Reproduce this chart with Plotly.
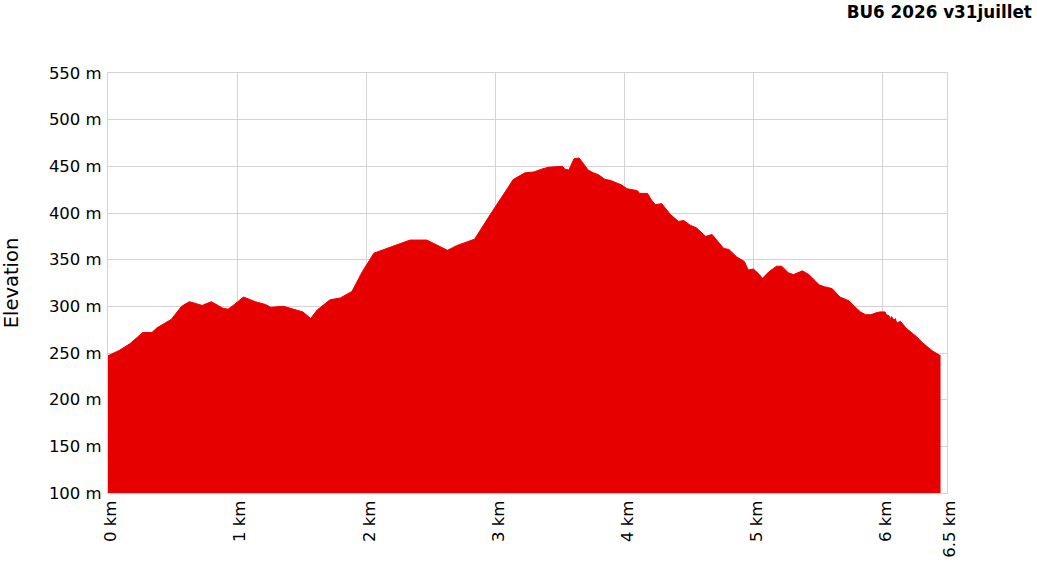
import plotly.graph_objects as go

# distance along the route (km)
distance_km = [0.00, 0.09, 0.17, 0.27, 0.34, 0.38, 0.49, 0.57, 0.63, 0.73, 0.80, 0.89, 0.93, 0.97,
               1.05, 1.14, 1.22, 1.26, 1.36, 1.46, 1.51, 1.57, 1.62, 1.72, 1.80, 1.89, 1.97,
               2.06, 2.34, 2.47, 2.63, 2.70, 2.84, 2.96,
               3.14, 3.23, 3.30, 3.36, 3.41, 3.52, 3.54, 3.57, 3.61, 3.65, 3.67, 3.72, 3.76, 3.80,
               3.82, 3.85, 3.89, 3.93, 3.98,
               4.02, 4.06, 4.10, 4.12, 4.18, 4.21, 4.24, 4.29, 4.36, 4.42, 4.46, 4.51, 4.56, 4.63, 4.68,
               4.77, 4.81, 4.87, 4.93, 4.96,
               5.00, 5.04, 5.07, 5.12, 5.18, 5.22, 5.27, 5.31, 5.38, 5.43, 5.51, 5.55, 5.61, 5.67, 5.74,
               5.79, 5.83, 5.87, 5.91, 5.95, 5.98,
               6.02, 6.03, 6.05, 6.06, 6.07, 6.09, 6.10, 6.11, 6.14, 6.18, 6.26, 6.31, 6.39, 6.45]

# elevation (m)
elevation_m = [247, 253, 260, 272, 272, 277, 286, 300, 305, 301, 305, 298, 297, 301,
               310, 305, 302, 299, 300, 296, 294, 287, 296, 307, 309, 316, 337,
               357, 371, 371, 360, 365, 372, 398,
               436, 443, 444, 447, 449, 450, 447, 446, 458, 459, 455, 446, 443, 441,
               439, 436, 435, 433, 430,
               426, 425, 424, 421, 421, 414, 409, 410, 398, 391, 392, 387, 384, 375, 377,
               362, 361, 353, 348, 339,
               340, 335, 330, 337, 343, 343, 336, 334, 338, 334, 323, 321, 319, 310, 306,
               299, 294, 291, 291, 293, 294,
               294, 291, 290, 286, 289, 285, 287, 282, 284, 277, 268, 261, 252, 247]

x_tickvals = [0, 1, 2, 3, 4, 5, 6, 6.5]
x_ticktext = ["0 km", "1 km", "2 km", "3 km", "4 km", "5 km", "6 km", "6.5 km"]
y_tickvals = [100, 150, 200, 250, 300, 350, 400, 450, 500, 550]
y_ticktext = [f"{v} m" for v in y_tickvals]

title_text = "BU6 2026 v31juillet"
y_title = "Elevation"

FONT = "DejaVu Sans, Verdana, sans-serif"
RED = "#e60000"
GRID = "#d3d3d3"

fig = go.Figure()
fig.add_trace(go.Scatter(
    x=distance_km, y=elevation_m,
    mode="lines", fill="tozeroy",
    fillcolor=RED, line=dict(color=RED, width=1),
    hoverinfo="skip", showlegend=False,
))

fig.update_layout(
    width=1037, height=573,
    margin=dict(l=108, r=90, t=73, b=80),
    paper_bgcolor="white", plot_bgcolor="white",
    font=dict(family=FONT, size=16.5, color="black"),
    title=dict(text="<b>" + title_text + "</b>", x=0.995, xanchor="right", xref="container",
               y=0.978, yanchor="middle", yref="container",
               font=dict(family=FONT, size=16.8, color="black")),
    xaxis=dict(range=[0, 6.5], tickvals=x_tickvals, ticktext=x_ticktext,
               tickangle=-90, showgrid=True, gridcolor=GRID, gridwidth=1,
               showline=True, linecolor=GRID, linewidth=1, mirror=True,
               zeroline=False, ticks="", ticklabelshift=3, ticklabelstandoff=0,
               automargin=False,
               tickfont=dict(family=FONT, size=16.5)),
    yaxis=dict(range=[100, 550], tickvals=y_tickvals, ticktext=y_ticktext,
               showgrid=True, gridcolor=GRID, gridwidth=1,
               showline=True, linecolor=GRID, linewidth=1, mirror=True,
               zeroline=False, ticks="", ticklabelstandoff=2, automargin=False,
               title=dict(text=y_title, font=dict(family=FONT, size=19.5), standoff=26),
               tickfont=dict(family=FONT, size=16.5)),
)

fig.write_html("out.html", config={"displayModeBar": False},
               post_script="document.body.style.margin='0';document.body.style.overflow='hidden';")
